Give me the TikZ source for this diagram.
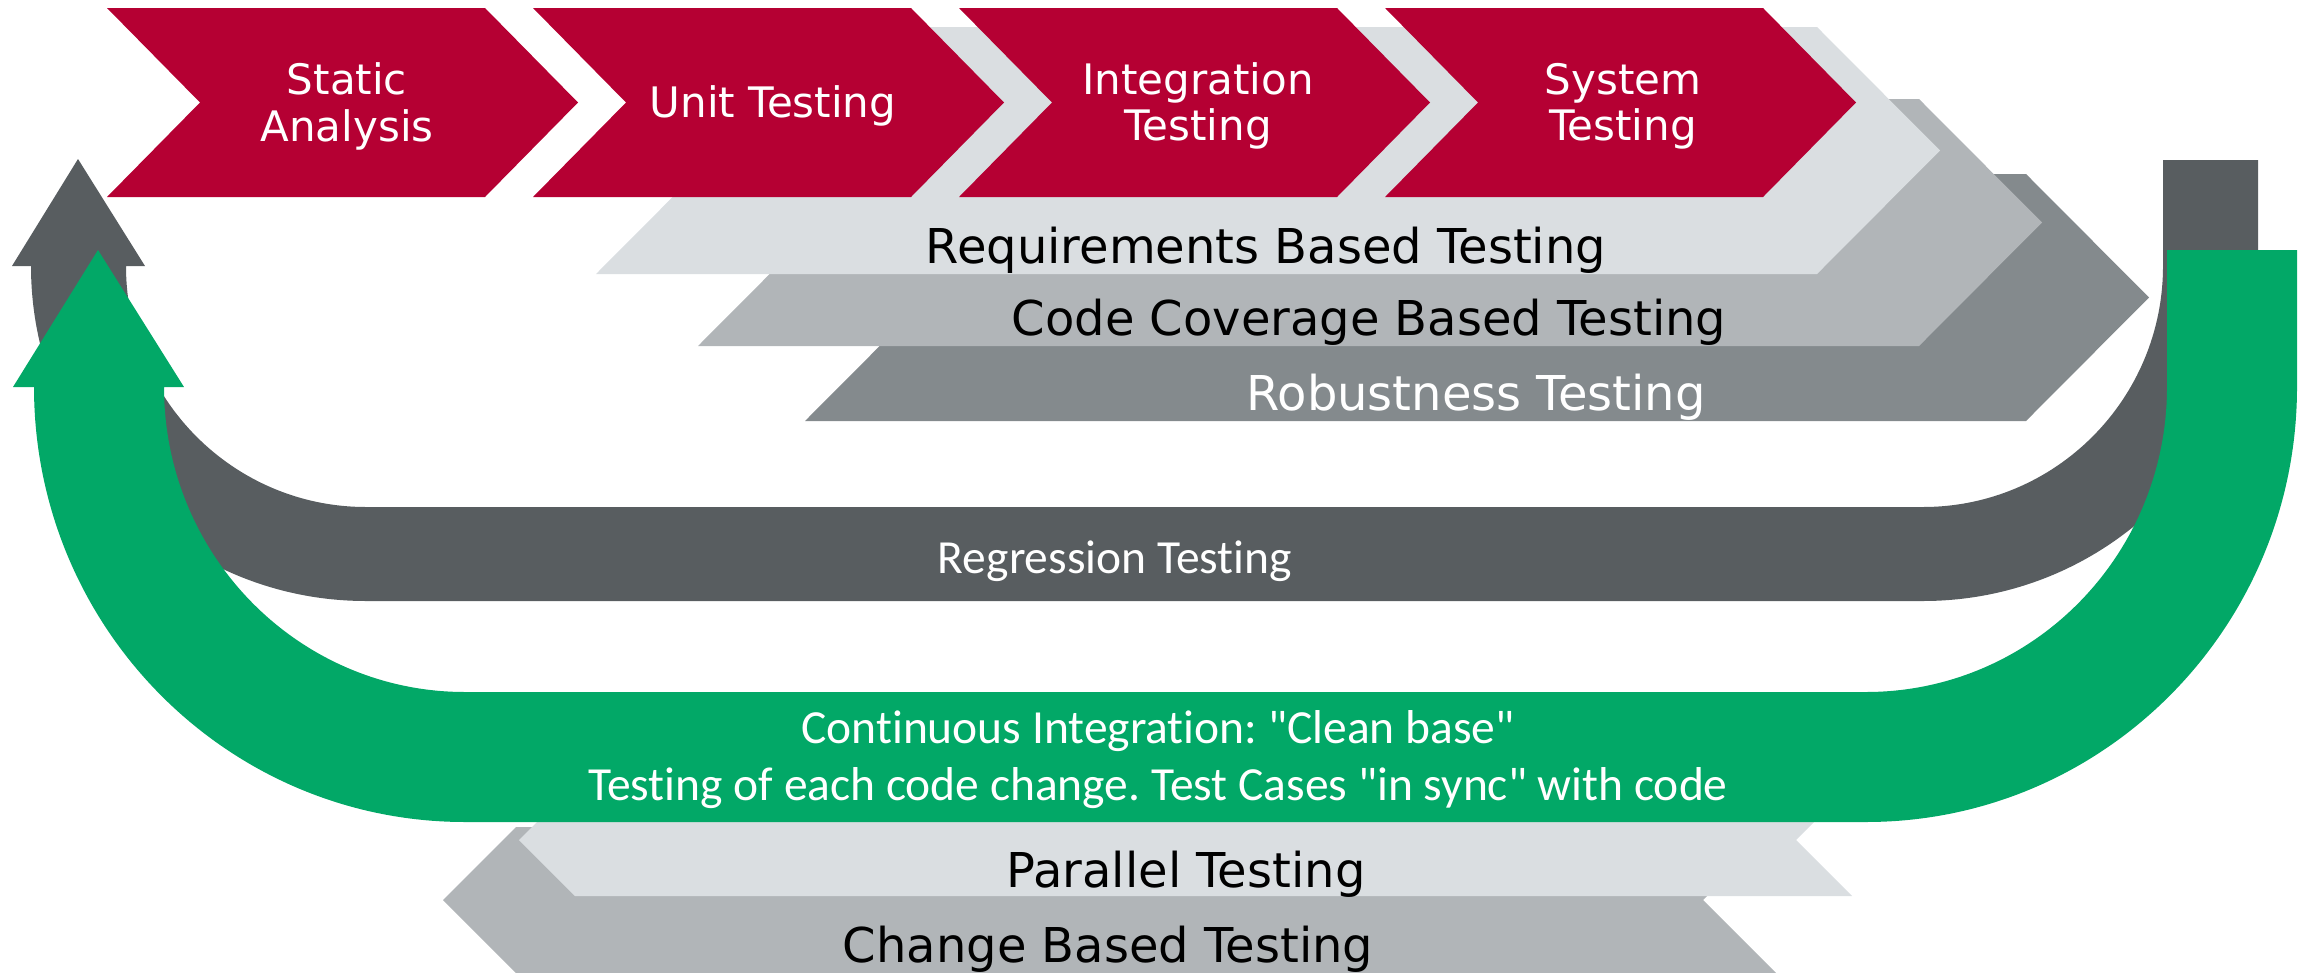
\documentclass[tikz,border=0pt]{standalone}
\usepackage{fontspec}
\newfontfamily\vfont{DejaVu Sans}
\newfontfamily\cfont[Ligatures={NoCommon}]{Carlito}
\definecolor{redc}{HTML}{B50033}
\definecolor{greenc}{HTML}{02A867}
\definecolor{darkc}{HTML}{585D60}
\definecolor{robc}{HTML}{848A8D}
\definecolor{covc}{HTML}{B1B5B8}
\definecolor{lightc}{HTML}{DADEE1}
\frenchspacing
\begin{document}
\begin{tikzpicture}[x=1pt,y=-1pt,
  ctext/.style={text=white,font=\vfont\fontsize{42}{47}\selectfont,anchor=base,inner sep=0pt},
  btext/.style={text=black,font=\vfont\fontsize{48}{56}\selectfont,anchor=base,inner sep=0pt},
  wbtext/.style={btext,text=white},
  gtext/.style={text=white,font=\cfont\fontsize{47.5}{56}\selectfont,anchor=base,inner sep=0pt}]
\useasboundingbox (0,0) rectangle (2305,972);
% gray bands (right pointing)
\fill[robc] (805,174) -- (2026,174) -- (2149,297.5) -- (2026,421) -- (805,421) -- (928,297.5) -- cycle;
\fill[covc] (698,99) -- (1919,99) -- (2042,222.5) -- (1919,346) -- (698,346) -- (821,222.5) -- cycle;
\fill[lightc] (596,27) -- (1817,27) -- (1940,150.5) -- (1817,274) -- (596,274) -- (719,150.5) -- cycle;
% red chevrons
\foreach \L in {107,533,959,1385}{
  \fill[redc] (\L,8) -- ({\L+378},8) -- ({\L+471},102.5) -- ({\L+378},197) -- (\L,197) -- ({\L+93},102.5) -- cycle;
}
% bottom bands (left pointing)
\fill[covc] (443,900) -- (516,827) -- (1776,827) -- (1703,900) -- (1776,973) -- (516,973) -- cycle;
\fill[lightc] (519,840) -- (575,784) -- (1852,784) -- (1796,840) -- (1852,896) -- (575,896) -- cycle;
% regression U band
\fill[darkc] (78,159) -- (145,266) -- (126,266)
  arc[start angle=180,end angle=90,x radius=240,y radius=241]
  -- (1923,507)
  arc[start angle=90,end angle=0,x radius=240,y radius=241]
  -- (2163,160) -- (2258,160) -- (2258,266)
  arc[start angle=0,end angle=90,x radius=335,y radius=335]
  -- (366,601)
  arc[start angle=90,end angle=180,x radius=335,y radius=335]
  -- (12,266) -- cycle;
% continuous integration U band
\fill[greenc] (98,250) -- (184,387) -- (164,387)
  arc[start angle=180,end angle=90,x radius=301,y radius=305]
  -- (1866,692)
  arc[start angle=90,end angle=0,x radius=301,y radius=305]
  -- (2167,250) -- (2297,250) -- (2297,387)
  arc[start angle=0,end angle=90,x radius=431,y radius=435]
  -- (465,822)
  arc[start angle=90,end angle=180,x radius=431,y radius=435]
  -- (13,387) -- cycle;
% texts
\node[ctext] (sa1) at (347,94) {Static};
\node[ctext] (sa2) at (347,141) {Analysis};
\node[ctext] (ut) at (773,117) {Unit Testing};
\node[ctext] (it1) at (1198,94) {Integration};
\node[ctext] (it2) at (1198,140) {Testing};
\node[ctext] (st1) at (1623,94) {System};
\node[ctext] (st2) at (1623,140) {Testing};
\node[btext] (req) at (1266,263) {Requirements Based Testing};
\node[btext] (cov) at (1369,335) {Code Coverage Based Testing};
\node[wbtext] (rob) at (1476,410) {Robustness Testing};
\node[gtext] (reg) at (1115,573) {Regression Testing};
\node[gtext] (ci1) at (1158,743) {Continuous Integration: "Clean base"};
\node[gtext] (ci2) at (1158,800) {Testing of each code change. Test Cases "in sync" with code};
\node[btext] (par) at (1186,887) {Parallel Testing};
\node[btext] (chg) at (1108,962) {Change Based Testing};
\end{tikzpicture}
\end{document}
